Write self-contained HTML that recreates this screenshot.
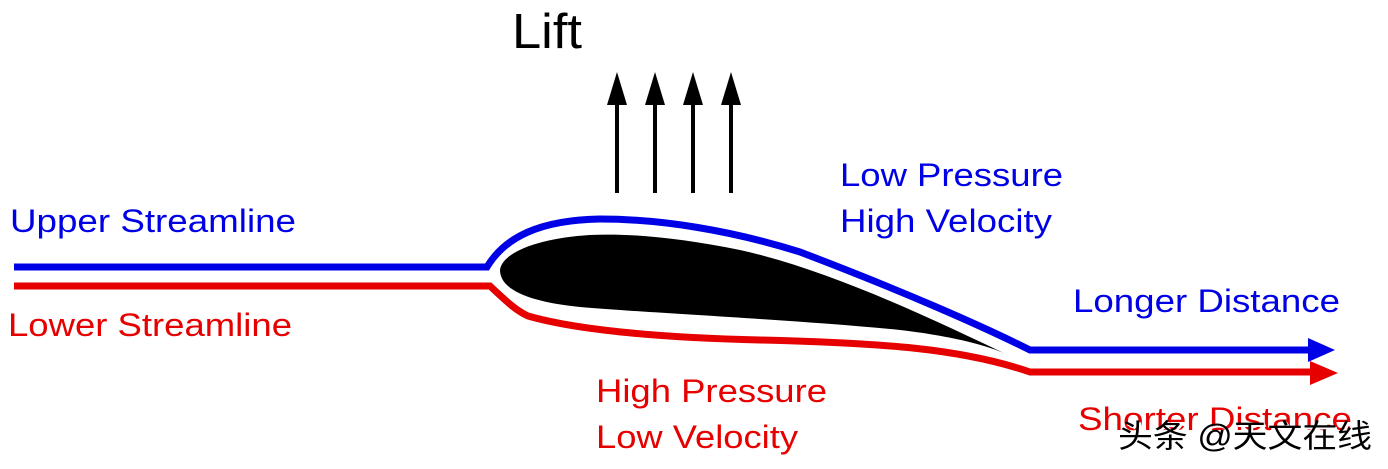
<!DOCTYPE html>
<html><head><meta charset="utf-8"><style>
html,body{margin:0;padding:0;background:#fff;width:1388px;height:469px;overflow:hidden}
svg{display:block}
text{font-family:"Liberation Sans",Arial,sans-serif}
</style></head><body>
<svg width="1388" height="469" viewBox="0 0 1388 469" xmlns="http://www.w3.org/2000/svg">
<text x="512" y="48" font-size="49" fill="#000" textLength="70" lengthAdjust="spacingAndGlyphs">Lift</text>
<g fill="#000">
<rect x="615" y="100" width="4" height="93"/><polygon points="617,72 607,105 627,105"/>
<rect x="653" y="100" width="4" height="93"/><polygon points="655,72 645,105 665,105"/>
<rect x="691" y="100" width="4" height="93"/><polygon points="693,72 683,105 703,105"/>
<rect x="729" y="100" width="4" height="93"/><polygon points="731,72 721,105 741,105"/>
</g>
<path d="M1010,356 C930,318 830,270 740,250 C680,238 630,233 590,235 C540,238 502,252 500,270 C500,290 530,302 580,307 C650,313 800,320 900,330 C960,337 995,348 1010,356 Z" fill="#000"/>
<path d="M14,267 L487,267 C505,237 540,220 600,219 C660,219 730,230 800,252 C900,290 980,325 1030,350 L1312,350" fill="none" stroke="#0000e6" stroke-width="7"/>
<polygon points="1308,338 1335,350 1308,362" fill="#0000e6"/>
<path d="M14,286 L490,286 C505,300 515,310 528,316 C570,328 640,337 760,340 C880,343 960,348 1030,372 L1312,372" fill="none" stroke="#e60000" stroke-width="7"/>
<polygon points="1310,361 1338,373 1310,385" fill="#e60000"/>
<g font-size="32" lengthAdjust="spacingAndGlyphs">
<text x="10" y="232" fill="#0000e6" textLength="286" lengthAdjust="spacingAndGlyphs">Upper Streamline</text>
<text x="8" y="336" fill="#e60000" textLength="284" lengthAdjust="spacingAndGlyphs">Lower Streamline</text>
<text x="840" y="186" fill="#0000e6" textLength="223" lengthAdjust="spacingAndGlyphs">Low Pressure</text>
<text x="840" y="232" fill="#0000e6" textLength="212" lengthAdjust="spacingAndGlyphs">High Velocity</text>
<text x="1073" y="312" fill="#0000e6" textLength="267" lengthAdjust="spacingAndGlyphs">Longer Distance</text>
<text x="596" y="402" fill="#e60000" textLength="231" lengthAdjust="spacingAndGlyphs">High Pressure</text>
<text x="596" y="448" fill="#e60000" textLength="202" lengthAdjust="spacingAndGlyphs">Low Velocity</text>
<text x="1078" y="430" fill="#e60000" textLength="274" lengthAdjust="spacingAndGlyphs">Shorter Distance</text>
</g>
<text x="1120" y="449" font-size="32" fill="#fff" textLength="254" lengthAdjust="spacingAndGlyphs" style="font-family:'Liberation Sans','Noto Sans CJK SC',sans-serif">头条 @天文在线</text>
<text x="1118" y="447" font-size="32" fill="#000" textLength="254" lengthAdjust="spacingAndGlyphs" style="font-family:'Liberation Sans','Noto Sans CJK SC',sans-serif">头条 @天文在线</text>
</svg>
</body></html>
